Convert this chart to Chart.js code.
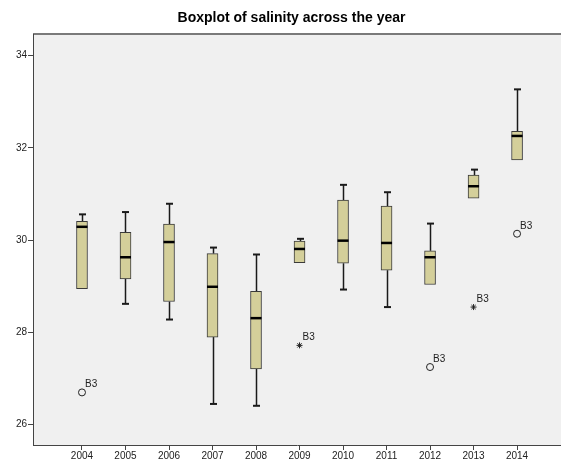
<!DOCTYPE html>
<html>
<head>
<meta charset="utf-8">
<script src="https://cdn.jsdelivr.net/npm/chart.js@4.4.1/dist/chart.umd.min.js"></script>
<style>
  html, body { margin: 0; padding: 0; background: #ffffff; }
  #wrap { width: 561px; height: 462px; position: relative; }
</style>
</head>
<body>
<div id="wrap"><canvas id="c" width="561" height="462"></canvas></div>
<script>
// Salinity per year: five-number summaries plus flagged outliers
const years     = ['2004','2005','2006','2007','2008','2009','2010','2011','2012','2013','2014'];
const whiskerLo = [28.95, 28.62, 28.28, 26.45, 26.41, 29.51, 28.93, 28.55, 29.04, 30.91, 31.74];
const q1        = [28.95, 29.16, 28.67, 27.90, 27.21, 29.51, 29.50, 29.35, 29.04, 30.91, 31.74];
const median    = [30.29, 29.63, 29.96, 28.99, 28.31, 29.81, 29.99, 29.94, 29.63, 31.17, 32.26];
const q3        = [30.41, 30.17, 30.35, 29.71, 28.89, 29.98, 30.87, 30.74, 29.77, 31.41, 32.36];
const whiskerHi = [30.56, 30.61, 30.79, 29.84, 29.69, 30.03, 31.20, 31.04, 30.36, 31.53, 33.27];

// Outliers: mild (circle) and extreme (star), each labelled with its case id
const mildYear     = [0, 8, 10];
const mildValue    = [26.70, 27.25, 30.14];
const mildLabel    = ['B3', 'B3', 'B3'];
const extremeYear  = [5, 9];
const extremeValue = [27.72, 28.55];
const extremeLabel = ['B3', 'B3'];

const yTicks = [26, 28, 30, 32, 34];

const FONT = '"Liberation Sans", Arial, sans-serif';
const INK = '#222222';

const plotFrame = {
  id: 'plotFrame',
  beforeDraw(chart) {
    const { ctx, chartArea: a } = chart;
    ctx.save();
    ctx.fillStyle = '#f0f0f0';
    ctx.fillRect(a.left, a.top, a.right - a.left, a.bottom - a.top);
    ctx.strokeStyle = '#7a7a7a';
    ctx.lineWidth = 2;
    ctx.beginPath();
    ctx.moveTo(a.left, a.top);
    ctx.lineTo(a.right, a.top);
    ctx.stroke();
    // title, centred over the plot frame
    ctx.fillStyle = '#000000';
    ctx.font = 'bold 14px ' + FONT;
    ctx.textAlign = 'center';
    ctx.textBaseline = 'middle';
    ctx.fillText('Boxplot of salinity across the year', 291.5, 18);
    ctx.restore();
  }
};

// whiskers, caps and medians, placed through the chart's scales
const boxParts = {
  id: 'boxParts',
  beforeDatasetsDraw(chart) {
    const { ctx } = chart;
    const xs = chart.scales.x, ys = chart.scales.y;
    ctx.save();
    ctx.strokeStyle = '#1a1a1a';
    years.forEach((_, i) => {
      const x = Math.round(xs.getPixelForValue(i)) + 0.5;
      const pairs = [[q3[i], whiskerHi[i]], [q1[i], whiskerLo[i]]];
      pairs.forEach(([from, to]) => {
        if (Math.abs(to - from) < 1e-6) return;
        const y0 = ys.getPixelForValue(from), y1 = ys.getPixelForValue(to);
        ctx.lineWidth = 1.5;
        ctx.beginPath();
        ctx.moveTo(x, y0);
        ctx.lineTo(x, y1);
        ctx.stroke();
        ctx.lineWidth = 2;
        ctx.beginPath();
        ctx.moveTo(x - 3.5, y1);
        ctx.lineTo(x + 3.5, y1);
        ctx.stroke();
      });
    });
    ctx.restore();
  },
  afterDatasetsDraw(chart) {
    const { ctx } = chart;
    const xs = chart.scales.x, ys = chart.scales.y;
    ctx.save();
    ctx.strokeStyle = '#000000';
    ctx.lineWidth = 2.5;
    years.forEach((_, i) => {
      const x = xs.getPixelForValue(i);
      const y = ys.getPixelForValue(median[i]);
      ctx.beginPath();
      ctx.moveTo(x - 5.5, y);
      ctx.lineTo(x + 5.5, y);
      ctx.stroke();
    });
    // case labels beside outliers
    ctx.fillStyle = INK;
    ctx.font = '10px ' + FONT;
    ctx.textAlign = 'left';
    ctx.textBaseline = 'alphabetic';
    const put = (idx, vals, labels) => idx.forEach((k, j) => {
      const x = xs.getPixelForValue(k), y = ys.getPixelForValue(vals[j]);
      ctx.fillText(labels[j], x + 3, y - 5);
    });
    put(mildYear, mildValue, mildLabel);
    put(extremeYear, extremeValue, extremeLabel);
    ctx.restore();
  }
};

new Chart(document.getElementById('c'), {
  type: 'bar',
  data: {
    datasets: [
      {
        type: 'bar',
        data: years.map((_, i) => ({ x: i, y: [q1[i], q3[i]] })),
        backgroundColor: '#d4cf9a',
        borderColor: '#3a3a3a',
        borderWidth: 1,
        borderSkipped: false,
        barThickness: 11,
        grouped: false,
        order: 2
      },
      {
        type: 'scatter',
        data: mildYear.map((k, j) => ({ x: k, y: mildValue[j] })),
        pointStyle: 'circle',
        pointRadius: 3.5,
        backgroundColor: 'rgba(0,0,0,0)',
        borderColor: '#222222',
        borderWidth: 1,
        order: 1
      },
      {
        type: 'scatter',
        data: extremeYear.map((k, j) => ({ x: k, y: extremeValue[j] })),
        pointStyle: 'star',
        pointRadius: 3,
        borderColor: '#222222',
        borderWidth: 1,
        order: 1
      }
    ]
  },
  options: {
    responsive: false,
    animation: false,
    layout: { autoPadding: false, padding: { top: 34, left: 0, right: 0, bottom: 0 } },
    plugins: { legend: { display: false }, tooltip: { enabled: false }, title: { display: false } },
    scales: {
      x: {
        type: 'linear',
        min: -1.126,
        max: 11.01,
        offset: false,
        afterBuildTicks: s => { s.ticks = years.map((_, i) => ({ value: i })); },
        afterFit: s => { s.height = 17; s.paddingLeft = 0; s.paddingRight = 0; },
        ticks: {
          autoSkip: false,
          maxRotation: 0,
          padding: 0,
          color: INK,
          font: { family: FONT, size: 10 },
          callback: v => years[v]
        },
        grid: { offset: false, drawOnChartArea: false, drawTicks: true, tickLength: 5, color: '#444444' },
        border: { color: '#444444', width: 1 }
      },
      y: {
        min: 25.56,
        max: 34.47,
        afterBuildTicks: s => { s.ticks = yTicks.map(v => ({ value: v })); },
        afterFit: s => { s.width = 33; s.paddingTop = 0; s.paddingBottom = 0; },
        ticks: {
          padding: 1,
          color: INK,
          font: { family: FONT, size: 10 }
        },
        grid: { offset: false, drawOnChartArea: false, drawTicks: true, tickLength: 5, color: '#444444' },
        border: { color: '#444444', width: 1 }
      }
    }
  },
  plugins: [plotFrame, boxParts]
});
</script>
</body>
</html>
